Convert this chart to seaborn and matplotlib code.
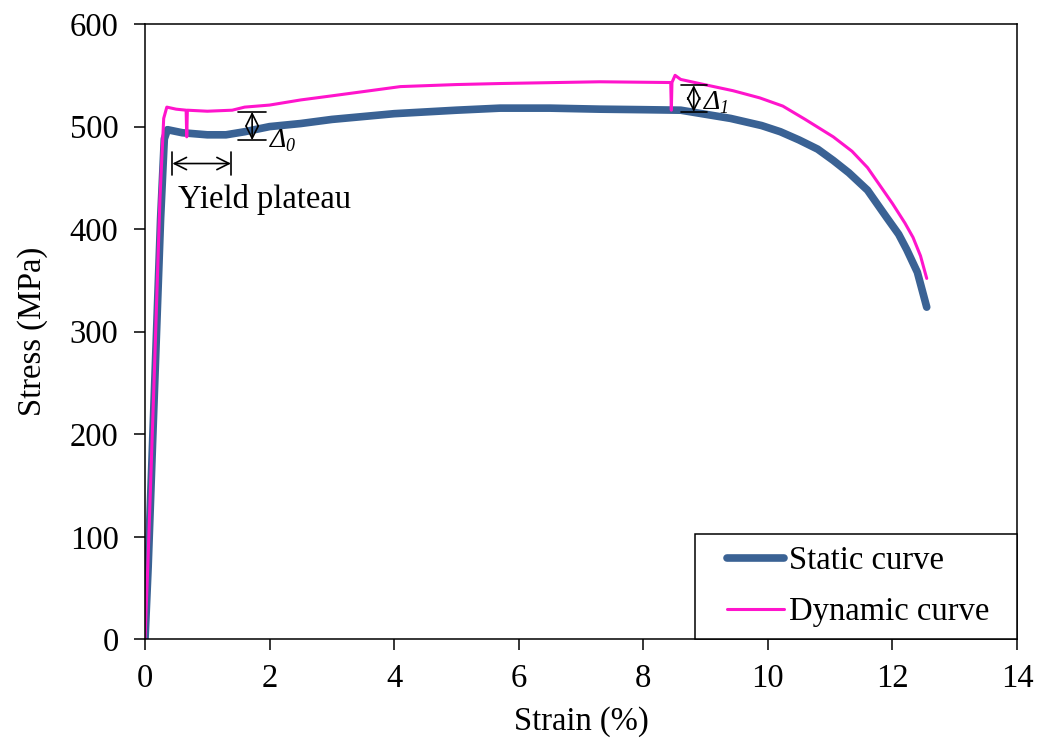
import matplotlib
matplotlib.use("Agg")
import matplotlib.pyplot as plt
from matplotlib.lines import Line2D
from matplotlib.legend_handler import HandlerLine2D
import seaborn as sns
import pandas as pd

# Static tensile test: strain (%) vs stress (MPa)
static_strain = [0.0, 0.05, 0.15, 0.25, 0.31, 0.36, 0.6, 1.0, 1.3, 1.6, 2.0, 2.5, 3.0,
                 4.0, 5.0, 5.7, 6.5, 7.3, 8.0, 8.6, 8.9, 9.4, 9.9, 10.2, 10.5, 10.8,
                 11.05, 11.3, 11.6, 11.9, 12.1, 12.23, 12.4, 12.55]
static_stress = [0, 70, 240, 410, 488, 497, 494, 492, 492, 495, 500, 503, 507,
                 512.6, 516, 518, 518, 517, 516.5, 516, 513, 508, 501, 495, 487, 478,
                 467, 455, 438, 412, 395, 380, 358, 324]

# Dynamic tensile test: strain (%) vs stress (MPa)
dynamic_strain = [0.0, 0.05, 0.15, 0.24, 0.3, 0.35, 0.5, 0.66, 0.67, 0.68, 1.0, 1.4,
                  1.6, 2.0, 2.5, 3.0, 4.1, 5.0, 5.7, 7.3, 8.38, 8.44, 8.45, 8.46,
                  8.51, 8.6, 8.9, 9.44, 9.87, 10.24, 10.6, 11.05, 11.35, 11.6, 12.0,
                  12.2, 12.33, 12.45, 12.55]
dynamic_stress = [0, 80, 260, 430, 508, 519, 517, 516, 490, 516, 515, 516,
                  519, 521, 526, 530, 539, 541, 542, 543.7, 543, 543, 516, 543,
                  550, 546, 542, 535, 528, 520, 507, 490, 476, 460, 425,
                  406, 392, 374, 352]

x_ticks = [0, 2, 4, 6, 8, 10, 12, 14]
y_ticks = [0, 100, 200, 300, 400, 500, 600]

static_df = pd.DataFrame({"Strain": static_strain, "Stress": static_stress})
dynamic_df = pd.DataFrame({"Strain": dynamic_strain, "Stress": dynamic_stress})

sns.set_theme(style="ticks")
plt.rcParams["font.family"] = ["Liberation Serif", "DejaVu Serif"]

BLUE = "#3A6294"
PINK = "#FF14CC"
FS = 23.5

fig = plt.figure(figsize=(10.38, 7.44), dpi=100)
ax = fig.add_axes([0.1397, 0.1405, 0.9798 - 0.1397, 0.9677 - 0.1405])

sns.lineplot(data=static_df, x="Strain", y="Stress", ax=ax, color=BLUE, lw=5.5,
             sort=False, estimator=None, label="Static curve",
             solid_capstyle="round")
sns.lineplot(data=dynamic_df, x="Strain", y="Stress", ax=ax, color=PINK, lw=2.2,
             sort=False, estimator=None, label="Dynamic curve")

ax.set_xlim(0, 14)
ax.set_ylim(0, 600)
ax.set_xticks(x_ticks)
ax.set_yticks(y_ticks)
ax.tick_params(axis="both", direction="out", length=8, width=1.1, color="black",
               labelsize=FS, labelcolor="black")
ax.tick_params(axis="x", pad=9)
ax.tick_params(axis="y", pad=11)
for sp in ax.spines.values():
    sp.set_visible(True)
    sp.set_color("black")
    sp.set_linewidth(1.1)

ax.set_xlabel("Strain (%)", fontsize=FS, color="black", labelpad=9)
ax.set_ylabel("Stress (MPa)", fontsize=FS, color="black", labelpad=16)


# Double-headed dimension markers with end bars
def dim_arrow(x0, y0, x1, y1, cap_half, vertical):
    ax.annotate("", xy=(x1, y1), xytext=(x0, y0),
                arrowprops=dict(arrowstyle="<->", color="black", lw=1.2,
                                mutation_scale=22, shrinkA=0, shrinkB=0))
    if vertical:
        for yy in (y0, y1):
            ax.plot([x0 - cap_half, x0 + cap_half], [yy, yy], color="black", lw=1.2)
    else:
        for xx in (x0, x1):
            ax.plot([xx, xx], [y0 - cap_half, y0 + cap_half], color="black", lw=1.2)


# Italic delta symbol with an italic subscript
def delta_label(x, y, sub):
    ax.text(x, y, "Δ", fontsize=20, fontstyle="italic", color="black",
            ha="left", va="baseline")
    ax.annotate(sub, xy=(x, y), xytext=(11.5, -3), textcoords="offset points",
                fontsize=13, fontstyle="italic", color="black",
                ha="left", va="baseline")


dim_arrow(0.44, 464, 1.38, 464, 11.5, vertical=False)
dim_arrow(1.72, 486.8, 1.72, 514.4, 0.22, vertical=True)
dim_arrow(8.81, 514.4, 8.81, 540.4, 0.21, vertical=True)

ax.text(0.53, 420.6, "Yield plateau", fontsize=FS, color="black",
        ha="left", va="baseline")
delta_label(2.0, 480.5, "0")
delta_label(8.97, 517.5, "1")


# Legend line samples drawn with a leading gap inside the handle slot
class LeadingGapLine(HandlerLine2D):
    def __init__(self, lead, **kw):
        super().__init__(**kw)
        self.lead = lead

    def create_artists(self, legend, orig_handle, xdescent, ydescent, width,
                       height, fontsize, trans):
        off = self.lead * fontsize
        return super().create_artists(legend, orig_handle, xdescent - off,
                                      ydescent, width - off, height, fontsize, trans)


leg = ax.legend(loc="lower right", bbox_to_anchor=(0.6307, 0, 0.3693, 0.2),
                mode="expand", borderaxespad=0,
                fontsize=FS, frameon=True, fancybox=False, framealpha=1,
                edgecolor="black", handlelength=2.37, handletextpad=0.15,
                borderpad=0.37, labelspacing=0.63,
                handler_map={Line2D: LeadingGapLine(0.62)})
leg.get_frame().set_linewidth(1.1)
for t in leg.get_texts():
    t.set_color("black")

fig.savefig("out.png", dpi=100, facecolor="white")
